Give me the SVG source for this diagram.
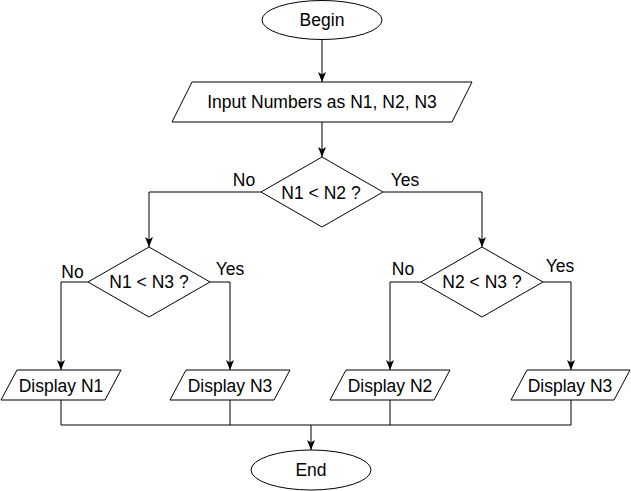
<svg xmlns="http://www.w3.org/2000/svg" width="631" height="491" viewBox="0 0 631 491">
<defs>
<marker id="arr" viewBox="0 0 10 8" refX="10" refY="4" markerWidth="10" markerHeight="8" markerUnits="userSpaceOnUse" orient="auto">
<path d="M0,0 L10,4 L0,8 L2.5,4 Z" fill="#000" stroke="none"/>
</marker>
</defs>
<style>
.s{fill:#fff;stroke:#000;stroke-width:1}
.t{font-family:"Liberation Sans",Arial,sans-serif;font-size:17.5px;fill:#000;text-anchor:middle}
.c{fill:none;stroke:#000;stroke-width:1}
</style>
<rect width="631" height="491" fill="#fff"/>
<g id="connectors">
<path class="c" d="M322,40 V82" marker-end="url(#arr)"/>
<path class="c" d="M322,122 V157" marker-end="url(#arr)"/>
<path class="c" d="M261,192 H149 V247" marker-end="url(#arr)"/>
<path class="c" d="M383,192 H482 V247" marker-end="url(#arr)"/>
<path class="c" d="M88,282 H61 V370" marker-end="url(#arr)"/>
<path class="c" d="M210,282 H230 V370" marker-end="url(#arr)"/>
<path class="c" d="M421,282 H390 V370" marker-end="url(#arr)"/>
<path class="c" d="M543,282 H571 V370" marker-end="url(#arr)"/>
<path class="c" d="M61,400 V425 H571 V400 M230,400 V425 M390,400 V425"/>
<path class="c" d="M311,425 V450" marker-end="url(#arr)"/>
<text class="t" x="244" y="186">No</text>
<text class="t" x="405" y="186">Yes</text>
<text class="t" x="72.5" y="278">No</text>
<text class="t" x="230" y="275">Yes</text>
<text class="t" x="403" y="275">No</text>
<text class="t" x="560" y="272">Yes</text>
</g>
<g id="begin">
<ellipse class="s" cx="322" cy="20" rx="60" ry="19.5"/>
<text class="t" x="322" y="26">Begin</text>
</g>
<g id="input">
<polygon class="s" points="192,82 472,82 452,122 172,122"/>
<text class="t" x="322" y="108">Input Numbers as N1, N2, N3</text>
</g>
<g id="dec1">
<polygon class="s" points="322,157 383,192 322,227 261,192"/>
<text class="t" x="321" y="199">N1 &lt; N2 ?</text>
</g>
<g id="dec2">
<polygon class="s" points="149,247 210,282 149,317 88,282"/>
<text class="t" x="149" y="288">N1 &lt; N3 ?</text>
</g>
<g id="dec3">
<polygon class="s" points="482,247 543,282 482,317 421,282"/>
<text class="t" x="482" y="288">N2 &lt; N3 ?</text>
</g>
<g id="disp1">
<polygon class="s" points="17,370 121,370 105,400 1,400"/>
<text class="t" x="61" y="392">Display N1</text>
</g>
<g id="disp3a">
<polygon class="s" points="186,370 290,370 274,400 170,400"/>
<text class="t" x="230" y="392">Display N3</text>
</g>
<g id="disp2">
<polygon class="s" points="346,370 450,370 434,400 330,400"/>
<text class="t" x="390" y="392">Display N2</text>
</g>
<g id="disp3b">
<polygon class="s" points="527,370 630,370 614,400 511,400"/>
<text class="t" x="570" y="392">Display N3</text>
</g>
<g id="end">
<ellipse class="s" cx="311" cy="470" rx="60" ry="20"/>
<text class="t" x="311" y="476">End</text>
</g>
</svg>
